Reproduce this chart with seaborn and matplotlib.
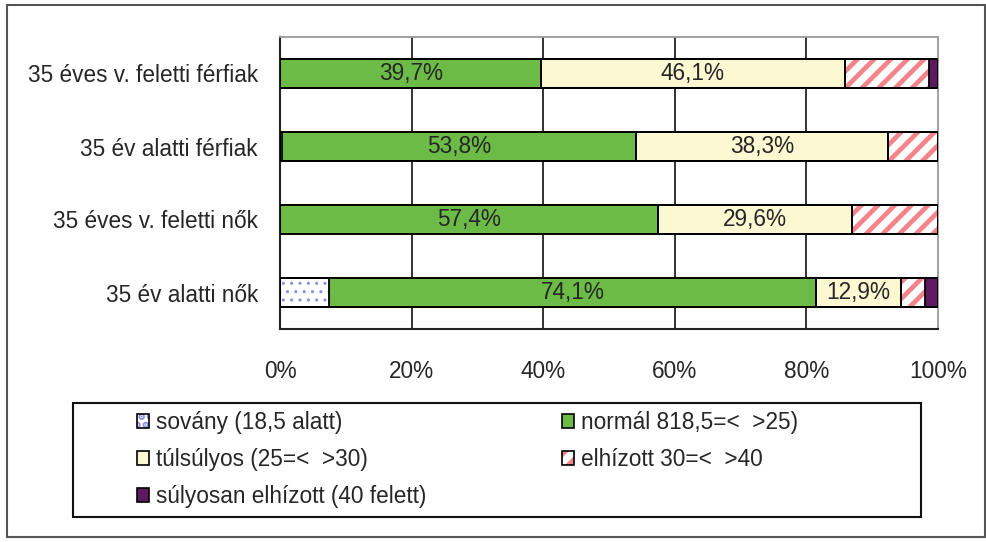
import numpy as np
import pandas as pd
import matplotlib
matplotlib.use("Agg")
import matplotlib.pyplot as plt
from matplotlib.patches import Patch, Rectangle
from matplotlib import font_manager as fm
import seaborn as sns

# ---- data -------------------------------------------------------------
categories = [
    "35 éves v. feletti férfiak",
    "35 év alatti férfiak",
    "35 éves v. feletti nők",
    "35 év alatti nők",
]
sovany = [0.0, 0.3, 0.0, 7.4]
normal = [39.7, 53.8, 57.4, 74.1]
tulsulyos = [46.1, 38.3, 29.6, 12.9]
elhizott = [12.8, 7.6, 13.0, 3.7]
sulyos = [1.4, 0.0, 0.0, 1.9]
series_names = [
    "sovány (18,5 alatt)",
    "normál 818,5=<  >25)",
    "túlsúlyos (25=<  >30)",
    "elhízott 30=<  >40",
    "súlyosan elhízott (40 felett)",
]
x_ticks = [0, 20, 40, 60, 80, 100]
x_tick_labels = ["0%", "20%", "40%", "60%", "80%", "100%"]
labelled_series = [1, 2]

# ---- styling ----------------------------------------------------------
styles = [
    dict(face="white", hatch="..", hatch_color="#8c8ce0", hatch_lw=1.0),
    dict(face="#6cbb47", hatch=None),
    dict(face="#fcf8d2", hatch=None),
    dict(face="white", hatch="//", hatch_color="#f4848a", hatch_lw=3.4),
    dict(face="#5d1a62", hatch=None),
]


def has_font(name):
    try:
        fm.findfont(fm.FontProperties(family=name), fallback_to_default=False)
        return True
    except ValueError:
        return False


sns.set_style("white")
if has_font("Liberation Sans Narrow"):
    family, fs = "Liberation Sans Narrow", 19.4
else:
    family, fs = "Liberation Sans", 16.3
plt.rcParams["font.family"] = [family, "DejaVu Sans"]
plt.rcParams["hatch.linewidth"] = 3.4
fs_px = fs * 100 / 72

W, H = 987, 542
fig = plt.figure(figsize=(W / 100, H / 100), dpi=100)
fig.patch.set_facecolor("white")
ax = fig.add_axes([280 / W, 1 - 329 / H, 658 / W, (329 - 37) / H])

values = np.array([sovany, normal, tulsulyos, elhizott, sulyos])
cum = values.cumsum(axis=0)
df = pd.DataFrame({"kategoria": categories})

# filled segments: cumulative bars drawn from the longest to the shortest
for i in reversed(range(len(values))):
    df["x"] = cum[i]
    st = styles[i]
    kw = dict(data=df, x="x", y="kategoria", orient="y", width=0.4,
              saturation=1, errorbar=None, ax=ax, zorder=2)
    n0 = len(ax.patches)
    if st["hatch"]:
        sns.barplot(**kw, color=st["face"], edgecolor=st["hatch_color"],
                    linewidth=0, hatch=st["hatch"])
        for p in ax.patches[n0:]:
            if hasattr(p, "set_hatch_linewidth"):
                p.set_hatch_linewidth(st["hatch_lw"])
    else:
        sns.barplot(**kw, color=st["face"], edgecolor="black", linewidth=1.3)

# black outlines of every segment
for i in range(len(values)):
    df["x"] = cum[i]
    sns.barplot(data=df, x="x", y="kategoria", orient="y", width=0.4,
                errorbar=None, ax=ax, fill=False, color="black",
                linewidth=1.3, zorder=3)

# value labels
for j in range(len(categories)):
    for i in labelled_series:
        left = cum[i - 1][j]
        val = values[i][j]
        ax.text(left + val / 2, j, f"{val:.1f}".replace(".", ",") + "%",
                ha="center", va="center", fontsize=fs, zorder=4)

# axes, ticks, grid
ax.set_xlim(0, 100)
ax.set_ylim(len(categories) - 0.5, -0.5)
ax.set_xlabel("")
ax.set_ylabel("")
ax.set_xticks(x_ticks)
ax.set_xticklabels(x_tick_labels, fontsize=fs)
ax.set_yticks(np.arange(len(categories) + 1) - 0.5)
ax.set_yticklabels([])
ax.set_yticks(np.arange(len(categories)), minor=True)
ax.set_yticklabels(categories, minor=True, fontsize=fs)
ax.tick_params(axis="x", which="major", direction="out", length=6,
               width=1.3, color="#222222", pad=16.5)
ax.tick_params(axis="y", which="major", direction="out", length=5,
               width=1.3, color="#222222")
ax.tick_params(axis="y", which="minor", length=0, pad=16)
ax.grid(False)
for x in x_ticks[1:-1]:
    ax.axvline(x, color="#222222", linewidth=1.3, zorder=1)
for side in ("left", "bottom"):
    ax.spines[side].set_color("#222222")
    ax.spines[side].set_linewidth(1.5)
for side in ("top", "right"):
    ax.spines[side].set_color("#9a9a9a")
    ax.spines[side].set_linewidth(1.3)
    ax.spines[side].set_visible(True)


# legend
def make_handle(i):
    st = styles[i]
    if st["hatch"]:
        h = Patch(facecolor="white", edgecolor=st["hatch_color"],
                  hatch=st["hatch"], linewidth=0)
        if hasattr(h, "set_hatch_linewidth"):
            h.set_hatch_linewidth(st["hatch_lw"])
        return (h, Patch(facecolor="none", edgecolor="black", linewidth=1.2))
    return Patch(facecolor=st["face"], edgecolor="black", linewidth=1.2)


leg_kw = dict(loc="upper left", frameon=False, fontsize=fs, borderpad=0,
              borderaxespad=0, handlelength=12 / fs_px, handleheight=12 / fs_px,
              handletextpad=7 / fs_px, labelspacing=0.62)
cols = [[0, 2, 4], [1, 3]]
col_x = [137, 562]
for c, xs in zip(cols, col_x):
    fig.legend([make_handle(i) for i in c], [series_names[i] for i in c],
               bbox_to_anchor=(xs / W, 1 - 411 / H), **leg_kw)

fig.add_artist(Rectangle((73 / W, 25 / H), 848 / W, 114 / H,
                         transform=fig.transFigure, fill=False,
                         edgecolor="#111111", linewidth=1.5))
fig.add_artist(Rectangle((7 / W, 5 / H), 978 / W, 532 / H,
                         transform=fig.transFigure, fill=False,
                         edgecolor="#555555", linewidth=1.5))

fig.savefig("out.png", dpi=100)
